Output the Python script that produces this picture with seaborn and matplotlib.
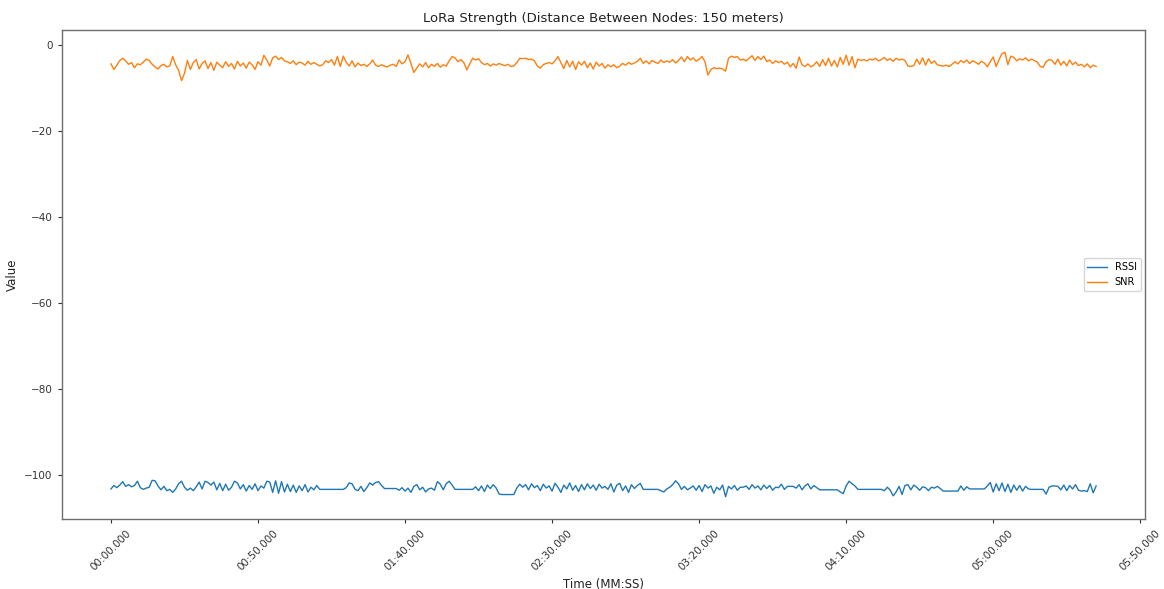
import numpy as np
import pandas as pd
import matplotlib
matplotlib.use("Agg")
import matplotlib.pyplot as plt
from matplotlib.ticker import FuncFormatter, MultipleLocator
import seaborn as sns

# ---- data (one sample per second) ----
sample_period_s = 1.0

rssi = [
    -103.2, -102.4, -102.9, -102.3, -101.5, -102.6, -102.2, -102.7, -102.4, -101.4,
    -102.9, -103.3, -103.0, -102.8, -101.2, -101.3, -102.5, -103.4, -102.6, -103.6,
    -103.3, -104.0, -103.2, -102.0, -101.4, -102.8, -103.5, -103.0, -103.6, -102.7,
    -101.6, -103.2, -101.4, -101.7, -102.3, -101.6, -103.4, -101.9, -103.6, -102.1,
    -103.5, -102.8, -101.4, -101.8, -103.2, -102.2, -103.7, -102.4, -103.3, -102.0,
    -103.6, -102.5, -103.0, -101.4, -101.6, -104.0, -101.3, -104.2, -101.5, -103.9,
    -102.1, -103.8, -102.3, -104.0, -102.5, -103.6, -102.2, -103.9, -102.8, -103.4,
    -102.4, -103.3, -103.3, -103.3, -103.3, -103.3, -103.3, -103.3, -103.3, -103.3,
    -102.9, -101.8, -102.0, -103.3, -103.6, -102.6, -103.8, -102.9, -101.8, -102.3,
    -101.7, -101.5, -102.4, -103.1, -103.1, -103.1, -103.1, -103.1, -103.5, -102.9,
    -103.7, -103.0, -104.0, -102.6, -102.2, -103.4, -102.8, -103.9, -103.2, -103.0,
    -103.5, -101.5, -102.1, -103.4, -102.0, -101.4, -102.3, -103.3, -103.3, -103.3,
    -103.3, -103.3, -103.3, -103.3, -102.7, -103.6, -102.5, -103.8, -102.3, -103.1,
    -102.2, -103.0, -104.4, -104.5, -104.5, -104.5, -104.5, -104.5, -103.0, -102.1,
    -102.8, -102.2, -103.4, -102.0, -102.9, -102.4, -103.6, -102.1, -103.0, -102.5,
    -103.7, -101.9, -102.8, -104.0, -102.3, -103.2, -101.8, -103.5, -102.4, -103.8,
    -102.2, -103.4, -102.0, -103.1, -102.3, -103.5, -102.1, -103.0, -102.6, -103.3,
    -102.0, -103.9, -102.3, -101.9, -103.6, -102.5, -104.0, -102.2, -103.1, -102.4,
    -101.9, -103.3, -103.3, -103.3, -103.3, -103.3, -103.3, -103.6, -103.9, -103.2,
    -102.8, -102.2, -101.3, -102.0, -103.3, -102.6, -103.4, -103.0, -102.5, -103.5,
    -102.4, -103.8, -102.2, -103.0, -102.5, -104.2, -102.8, -103.4, -102.3, -105.0,
    -102.6, -103.2, -102.4, -103.5, -102.8, -102.8, -102.5, -103.3, -102.2, -103.0,
    -102.5, -103.4, -102.3, -103.1, -102.4, -103.5, -102.8, -102.9, -102.1, -103.3,
    -102.6, -102.6, -102.6, -103.0, -102.2, -103.4, -102.5, -102.0, -103.2, -102.4,
    -102.9, -103.4, -103.4, -103.4, -103.4, -103.4, -103.4, -103.4, -103.9, -104.3,
    -102.5, -101.4, -102.0, -102.5, -103.3, -103.3, -103.3, -103.3, -103.3, -103.3,
    -103.3, -103.3, -103.3, -103.6, -102.8, -103.5, -104.8, -103.9, -102.6, -104.5,
    -102.4, -102.2, -103.4, -102.3, -102.8, -103.5, -102.7, -102.9, -103.6, -102.8,
    -103.0, -102.6, -103.1, -103.7, -103.7, -103.7, -103.7, -103.7, -103.7, -102.5,
    -103.5, -102.7, -103.2, -103.2, -103.2, -103.2, -103.2, -103.2, -102.5, -101.7,
    -103.9, -102.0, -103.6, -101.8, -103.8, -102.1, -104.0, -102.3, -103.5, -102.4,
    -103.7, -102.6, -103.2, -103.3, -103.3, -103.3, -103.3, -103.3, -104.4, -102.8,
    -102.5, -102.5, -102.6, -103.4, -102.3, -103.6, -102.4, -103.2, -102.2, -103.5,
    -103.7, -103.6, -103.8, -102.0, -104.1, -102.5,
]

snr = [
    -4.3, -5.6, -4.6, -3.5, -3.0, -3.6, -4.4, -4.0, -5.2, -4.3,
    -4.5, -3.9, -3.2, -3.5, -4.4, -5.0, -5.5, -4.7, -4.4, -5.0,
    -4.8, -2.6, -4.5, -5.8, -8.2, -6.5, -3.5, -5.6, -4.0, -3.3,
    -5.5, -4.2, -3.6, -5.4, -4.0, -5.8, -3.9, -4.6, -5.2, -3.8,
    -4.9, -4.2, -5.5, -3.7, -4.8, -4.1, -5.3, -3.9, -4.5, -5.6,
    -3.8, -4.6, -2.3, -3.4, -4.8, -2.9, -2.5, -3.3, -2.8, -3.6,
    -3.8, -4.2, -3.6, -4.5, -3.9, -4.1, -4.6, -3.7, -4.4, -4.0,
    -4.4, -4.8, -4.5, -3.6, -4.0, -3.3, -4.6, -2.6, -4.9, -2.5,
    -3.9, -4.8, -3.6, -5.0, -4.1, -4.7, -4.4, -4.9, -4.3, -3.4,
    -4.6, -4.9, -4.5, -4.8, -5.0, -4.6, -4.4, -4.9, -3.4, -4.3,
    -3.8, -2.2, -4.2, -6.3, -5.3, -4.3, -5.0, -4.0, -5.2, -4.4,
    -4.9, -4.2, -5.1, -4.5, -4.8, -3.6, -2.6, -2.9, -3.8, -3.3,
    -4.0, -5.7, -4.3, -3.0, -3.4, -3.1, -4.0, -4.5, -4.2, -4.8,
    -4.3, -4.6, -4.2, -4.5, -4.7, -4.4, -4.9, -4.8, -4.0, -3.0,
    -3.1, -3.0, -3.3, -3.2, -3.6, -4.8, -5.3, -4.5, -4.2, -4.0,
    -4.3, -3.6, -2.6, -4.0, -5.4, -3.5, -5.0, -3.7, -5.6, -3.8,
    -4.6, -3.7, -5.2, -4.1, -5.5, -3.9, -4.8, -4.2, -5.3, -4.5,
    -5.0, -4.5, -5.2, -4.8, -4.2, -4.6, -4.0, -4.4, -4.1, -3.7,
    -3.0, -4.2, -3.6, -4.3, -3.5, -3.9, -4.2, -3.4, -4.0, -3.6,
    -3.9, -3.3, -4.1, -3.5, -2.7, -3.8, -2.6, -3.4, -2.9, -3.7,
    -3.2, -2.6, -3.8, -6.9, -5.6, -5.2, -5.4, -5.3, -5.5, -6.0,
    -3.0, -2.5, -2.8, -2.6, -3.4, -3.2, -3.6, -3.0, -2.4, -3.5,
    -2.6, -3.3, -2.5, -3.8, -3.4, -4.2, -3.6, -4.0, -3.7, -4.4,
    -3.9, -5.0, -4.2, -5.3, -2.7, -4.5, -4.9, -4.3, -5.0, -4.6,
    -3.8, -4.9, -3.3, -4.7, -3.0, -4.8, -3.5, -5.0, -2.8, -4.4,
    -2.3, -4.6, -2.6, -5.2, -3.2, -3.5, -3.3, -3.6, -3.2, -3.4,
    -3.0, -3.6, -3.3, -2.8, -3.5, -3.1, -3.7, -3.0, -3.4, -3.2,
    -3.5, -4.8, -4.9, -4.7, -3.2, -4.4, -2.9, -4.6, -3.1, -4.2,
    -3.6, -4.5, -4.7, -4.8, -4.6, -4.9, -4.4, -3.8, -4.3, -3.5,
    -4.0, -3.4, -4.2, -3.6, -3.9, -4.4, -3.7, -4.1, -5.0, -3.8,
    -2.7, -4.9, -3.3, -1.9, -1.6, -4.5, -2.5, -2.8, -3.6, -3.1,
    -3.4, -2.9, -3.6, -3.2, -3.5, -3.9, -4.9, -5.1, -3.8, -3.3,
    -3.5, -4.4, -3.2, -4.6, -3.7, -4.8, -3.4, -4.5, -3.9, -4.7,
    -4.4, -5.0, -4.3, -5.2, -4.6, -4.9,
]

series_names = ["RSSI", "SNR"]
series_colors = ["#1f77b4", "#ff7f0e"]
tick_seconds = [0, 50, 100, 150, 200, 250, 300, 350]

time_s = np.arange(len(rssi)) * sample_period_s

df = pd.DataFrame({
    "Time": np.concatenate([time_s, time_s]),
    "Value": rssi + snr,
    "Metric": [series_names[0]] * len(rssi) + [series_names[1]] * len(snr),
})

fig = plt.figure(figsize=(11.64, 5.89), dpi=100)
ax = fig.add_axes([0.053, 0.119, 0.931, 0.830])

sns.lineplot(data=df, x="Time", y="Value", hue="Metric",
             palette=series_colors, linewidth=1.0, ax=ax, estimator=None)

def fmt(sec, _pos):
    m = int(sec // 60)
    s = sec - m * 60
    return f"{m:02d}:{int(s):02d}.{int(round((s - int(s)) * 1000)):03d}"

ax.set_xticks(tick_seconds)
ax.xaxis.set_major_formatter(FuncFormatter(fmt))
ax.yaxis.set_major_locator(MultipleLocator(20))
for lab in ax.get_xticklabels():
    lab.set_rotation(45)
    lab.set_ha("center")

ax.tick_params(axis="both", labelsize=7.5, colors="#333333", length=3)
for sp in ax.spines.values():
    sp.set_color("#6e6e6e")
    sp.set_linewidth(1.0)

ax.set_title("LoRa Strength (Distance Between Nodes: 150 meters)", fontsize=9.5, color="#222222")
ax.set_xlabel("Time (MM:SS)", fontsize=8.5, color="#222222")
ax.set_ylabel("Value", fontsize=8.5, color="#222222")

leg = ax.legend(loc="center right", fontsize=7, frameon=True)
leg.set_title(None)

fig.savefig("out.png", dpi=100)
